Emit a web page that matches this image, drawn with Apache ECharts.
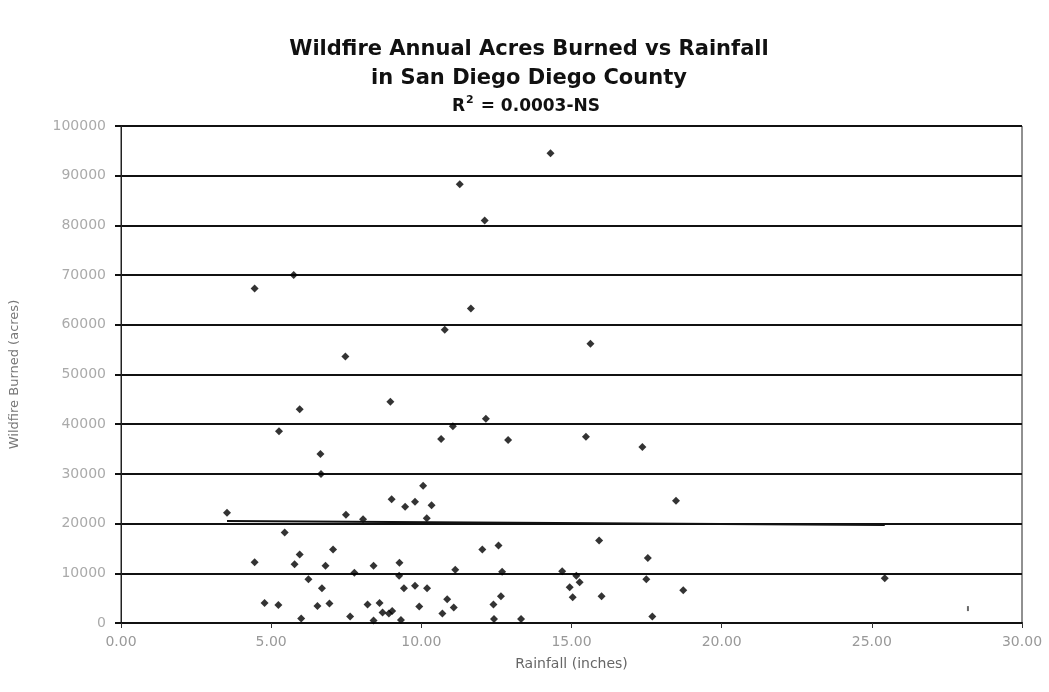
<!DOCTYPE html>
<html>
<head>
<meta charset="utf-8">
<script src="https://cdn.jsdelivr.net/npm/echarts@6/dist/echarts.min.js"></script>
<style>html,body{margin:0;padding:0;background:#fff;}#c{width:1049px;height:692px;}</style>
</head>
<body>
<div id="c"></div>
<script>
const rainfall = [5.75,4.45,7.47,5.95,8.97,11.28,12.11,11.65,10.78,15.63,12.15,14.30,5.26,6.64,6.66,3.53,7.49,5.45,5.95,4.45,5.78,7.06,6.81,6.24,6.69,4.78,5.24,6.54,6.94,6.00,7.63,11.05,10.66,12.89,10.06,9.01,9.46,9.79,10.34,8.06,10.18,12.03,12.57,8.41,9.27,7.77,11.13,12.69,14.69,9.26,9.42,9.79,10.19,15.16,15.27,14.94,15.04,8.21,8.61,8.71,8.92,9.03,9.93,10.86,11.08,10.70,12.40,12.65,8.41,9.32,12.42,13.32,15.48,17.36,18.48,15.92,17.54,17.49,16.00,18.72,17.69,25.43];
const acres = [70000,67300,53600,43000,44500,88300,81000,63300,59000,56200,41100,94500,38600,34000,30000,22200,21800,18200,13800,12200,11800,14800,11500,8800,7000,4000,3600,3400,3900,900,1300,39600,37000,36800,27600,24900,23400,24400,23700,20900,21100,14800,15600,11500,12100,10100,10700,10300,10400,9500,7000,7500,7000,9500,8200,7200,5200,3700,4000,2100,1900,2400,3300,4800,3100,1900,3700,5400,500,600,800,800,37500,35400,24600,16600,13100,8800,5400,6600,1300,9000];
const faintRain = [28.2];
const faintAcres = [2900];
const trendRain = [3.53, 25.43];
const trendAcres = [20500, 19700];
const titleLines = ["Wildfire Annual Acres Burned vs Rainfall", "in San Diego Diego County"];
const xName = "Rainfall (inches)";
const yName = "Wildfire Burned (acres)";

const pts = rainfall.map((r,i)=>[r, acres[i]]);
const faint = faintRain.map((r,i)=>[r, faintAcres[i]]);
const trend = trendRain.map((r,i)=>[r, trendAcres[i]]);

const F = 'DejaVu Sans';
const chart = echarts.init(document.getElementById('c'));
chart.setOption({
  animation: false,
  backgroundColor: '#fff',
  title: [{
    text: titleLines[0] + '\n' + titleLines[1],
    left: 524, top: 30, textAlign: 'center',
    textStyle: {fontFamily: F, fontSize: 21, fontWeight: 'bold', color: '#111', lineHeight: 29}
  },{
    text: '{a|R}{s|2}{a| = 0.0003-NS}',
    left: 521, top: 90, textAlign: 'center',
    textStyle: {rich: {
      a: {fontFamily: F, fontSize: 17, fontWeight: 'bold', color: '#111', lineHeight: 24},
      s: {fontFamily: F, fontSize: 11, fontWeight: 'bold', color: '#111', lineHeight: 24, verticalAlign: 'top', padding:[0,1,12,1]}
    }}
  }],
  grid: {left: 121, right: 27, top: 126, bottom: 69, show: true, borderColor: '#222', borderWidth: 1},
  xAxis: {
    type: 'value', min: 0, max: 30, interval: 5,
    name: xName, nameLocation: 'middle', nameGap: 34,
    nameTextStyle: {fontFamily: F, fontSize: 14, color: '#666'},
    axisLine: {show: true, lineStyle: {color: '#111', width: 2}},
    axisTick: {show: true, length: 5, lineStyle: {color: '#333'}},
    axisLabel: {fontFamily: F, fontSize: 14, color: '#999', margin: 12, formatter: v => v.toFixed(2)},
    splitLine: {show: false}
  },
  yAxis: {
    type: 'value', min: 0, max: 100000, interval: 10000,
    name: yName, nameLocation: 'middle', nameGap: 100, nameRotate: 90,
    nameTextStyle: {fontFamily: F, fontSize: 13, color: '#777'},
    axisLine: {show: true, lineStyle: {color: '#222', width: 1}},
    axisTick: {show: true, length: 6, lineStyle: {color: '#111', width: 2}},
    axisLabel: {fontFamily: F, fontSize: 14, color: '#aaa', margin: 15, formatter: v => String(v)},
    splitLine: {show: true, lineStyle: {color: '#111', width: 2}}
  },
  series: [{
    type: 'scatter', data: pts, symbol: 'diamond', symbolSize: 8,
    itemStyle: {color: '#000'}
  },{
    type: 'scatter', data: faint, symbol: 'rect', symbolSize: [2,5],
    itemStyle: {color: '#444'}
  },{
    type: 'line', data: trend, symbol: 'none',
    lineStyle: {color: '#111', width: 2}
  }]
});
</script>
</body>
</html>
